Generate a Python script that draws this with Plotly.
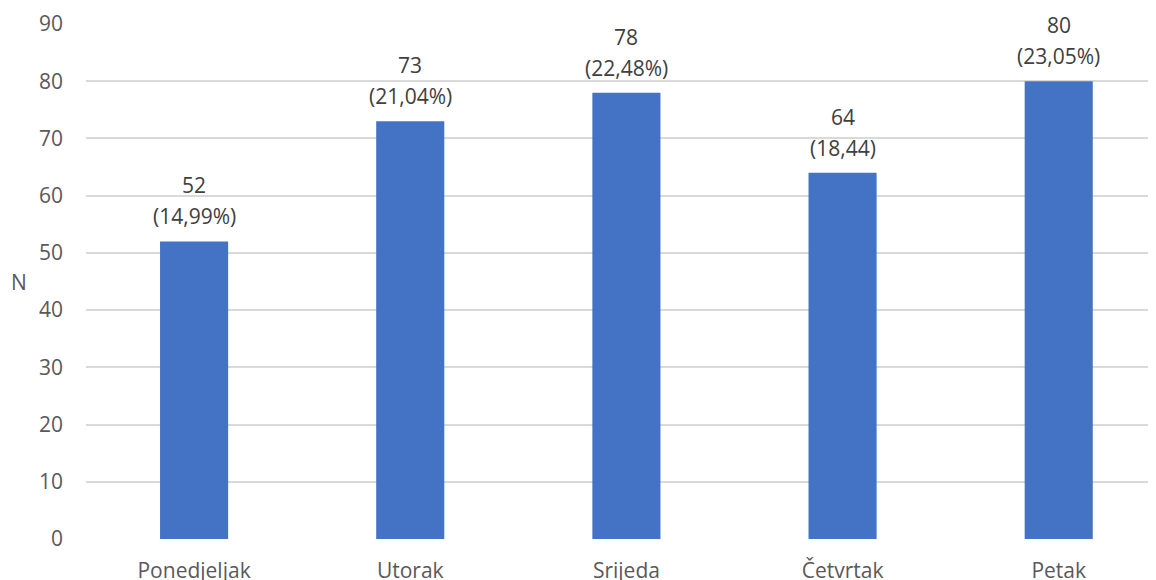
import plotly.graph_objects as go

days = ["Ponedjeljak", "Utorak", "Srijeda", "Četvrtak", "Petak"]
counts = [52, 73, 78, 64, 80]
shares = ["(14,99%)", "(21,04%)", "(22,48%)", "(18,44)", "(23,05%)"]
y_ticks = [0, 10, 20, 30, 40, 50, 60, 70, 80, 90]

BAR_COLOR = "#4472c4"
TEXT_COLOR = "#595959"
LABEL_COLOR = "#404040"
GRID_COLOR = "#d9d9d9"
FONT = "Open Sans, Liberation Sans, sans-serif"

fig = go.Figure()
fig.add_trace(go.Bar(x=days, y=counts, marker_color=BAR_COLOR, marker_line_width=0, width=0.315))

# value + share labels above each bar (two lines, Excel-like spacing)
for d, c, s in zip(days, counts, shares):
    fig.add_annotation(x=d, y=c, text=str(c), showarrow=False, xanchor="center", yanchor="middle",
                       yshift=56, font={"size": 21, "color": LABEL_COLOR, "family": FONT})
    fig.add_annotation(x=d, y=c, text=s, showarrow=False, xanchor="center", yanchor="middle",
                       yshift=25, font={"size": 21, "color": LABEL_COLOR, "family": FONT})

fig.add_annotation(text="N", xref="paper", yref="paper", x=-0.0626, y=0.5, showarrow=False,
                   xanchor="center", yanchor="middle",
                   font={"size": 21, "color": TEXT_COLOR, "family": FONT})

# the page body adds 8px around the figure, so margins are trimmed to compensate
fig.update_layout(
    width=1156, height=580,
    paper_bgcolor="white", plot_bgcolor="white",
    margin={"l": 78, "r": 8, "t": 16, "b": 49},
    showlegend=False,
    font={"family": FONT, "size": 21, "color": TEXT_COLOR},
)
fig.update_xaxes(range=[-0.5, 4.45], showgrid=False, showline=False, zeroline=False, automargin=False,
                 ticks="", ticklabelstandoff=17, tickfont={"size": 21, "color": TEXT_COLOR})
fig.update_yaxes(range=[0, 90], tickvals=y_ticks, gridcolor=GRID_COLOR, gridwidth=1.5, automargin=False,
                 zeroline=False, showline=False, ticks="", ticklabelstandoff=22,
                 tickfont={"size": 21, "color": TEXT_COLOR})

fig.write_html("out.html")
